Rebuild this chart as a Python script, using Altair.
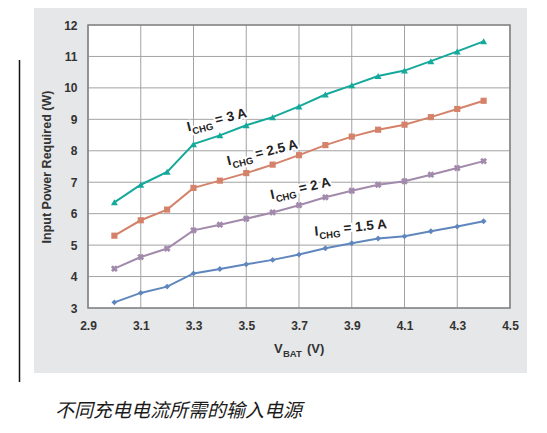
import altair as alt
import pandas as pd

# ---- data ----
volts = [3.0, 3.1, 3.2, 3.3, 3.4, 3.5, 3.6, 3.7, 3.8, 3.9, 4.0, 4.1, 4.2, 4.3, 4.4]
p_30 = [6.36, 6.92, 7.33, 8.21, 8.49, 8.81, 9.07, 9.41, 9.79, 10.08, 10.38, 10.55, 10.85, 11.16, 11.48]
p_25 = [5.30, 5.79, 6.13, 6.82, 7.05, 7.29, 7.56, 7.86, 8.18, 8.45, 8.67, 8.83, 9.07, 9.33, 9.59]
p_20 = [4.25, 4.62, 4.89, 5.47, 5.65, 5.84, 6.04, 6.27, 6.52, 6.73, 6.92, 7.03, 7.24, 7.45, 7.67]
p_15 = [3.18, 3.48, 3.68, 4.10, 4.24, 4.39, 4.53, 4.70, 4.90, 5.06, 5.21, 5.28, 5.44, 5.59, 5.76]

series_names = ["3 A", "2.5 A", "2 A", "1.5 A"]
series_vals = [p_30, p_25, p_20, p_15]
series_colors = ["#14a99b", "#d5826a", "#a28aac", "#5f87bd"]
series_shapes = ["triangle-up", "square", "cross", "diamond"]
series_angles = [0, 0, 45, 0]
series_sizes = [48, 38, 48, 34]

x_ticks = [2.9, 3.1, 3.3, 3.5, 3.7, 3.9, 4.1, 4.3, 4.5]
y_ticks = [3, 4, 5, 6, 7, 8, 9, 10, 11, 12]

label_x = [3.280, 3.432, 3.596, 3.761]
label_y = [8.61, 7.53, 6.46, 5.30]
label_angle = [346, 346, 347.5, 354]
label_main = ["I", "I", "I", "I"]
label_sub = ["CHG", "CHG", "CHG", "CHG"]
label_rest = ["= 3 A", "= 2.5 A", "= 2 A", "= 1.5 A"]

y_title = "Input Power Required (W)"
x_title_main = "V"
x_title_sub = "BAT"
x_title_rest = "(V)"
caption = "不同充电电流所需的输入电源"

W, H = 422, 283
FONT = "Liberation Sans"
TXT = "#333333"

rows = []
for name, vals in zip(series_names, series_vals):
    for v, p in zip(volts, vals):
        rows.append({"s": name, "v": v, "p": p})
df = pd.DataFrame(rows)
grid_x = pd.DataFrame({"v": x_ticks})
grid_y = pd.DataFrame({"p": y_ticks})
lab = pd.DataFrame({"v": label_x, "p": label_y, "a": label_angle,
                    "m": label_main, "sb": label_sub, "r": label_rest})
one = pd.DataFrame({"k": [0]})

xs = alt.Scale(domain=[2.9, 4.5], nice=False, zero=False)
ys = alt.Scale(domain=[3, 12], nice=False, zero=False)

xaxis = alt.Axis(values=x_ticks, format=".1f", grid=False, domain=False, ticks=False,
                 tickSize=0, labelPadding=12, labelFont=FONT, labelFontWeight="bold",
                 labelFontSize=12, labelColor=TXT, title=None, zindex=1,
                 labelFlush=False, labelOverlap=False)
yaxis = alt.Axis(values=y_ticks, format="d", grid=False, domain=False, ticks=False,
                 tickSize=0, labelPadding=11, labelFont=FONT, labelFontWeight="bold",
                 labelFontSize=12, labelColor=TXT, title=y_title, titleFont=FONT,
                 titleFontWeight="bold", titleFontSize=12.5, titleColor=TXT,
                 titlePadding=10, zindex=1, labelFlush=False, labelOverlap=False)


def X():
    return alt.X("v:Q", scale=xs, axis=xaxis)


def Y():
    return alt.Y("p:Q", scale=ys, axis=yaxis)


layers = []
# gray panel
layers.append(alt.Chart(one).mark_rect(color="#e6e7e8").encode(
    x=alt.value(-54), x2=alt.value(439), y=alt.value(-18), y2=alt.value(348)))
# white plot area
layers.append(alt.Chart(one).mark_rect(color="white").encode(
    x=alt.value(0), x2=alt.value(W), y=alt.value(0), y2=alt.value(H)))
# grid
layers.append(alt.Chart(grid_x).mark_rule(color="#a3a3a3", strokeWidth=1).encode(
    x=X(), y=alt.value(0), y2=alt.value(H)))
layers.append(alt.Chart(grid_y).mark_rule(color="#a3a3a3", strokeWidth=1).encode(
    y=Y(), x=alt.value(0), x2=alt.value(W)))
# frame
layers.append(alt.Chart(one).mark_rect(filled=False, stroke="#868686", strokeWidth=1.6).encode(
    x=alt.value(0), x2=alt.value(W), y=alt.value(0), y2=alt.value(H)))
# lines
layers.append(alt.Chart(df).mark_line(strokeWidth=2).encode(
    x=X(), y=Y(),
    color=alt.Color("s:N", scale=alt.Scale(domain=series_names, range=series_colors), legend=None),
))
# markers
for name, col, shp, ang, sz in zip(series_names, series_colors, series_shapes, series_angles, series_sizes):
    layers.append(alt.Chart(df).transform_filter(alt.datum.s == name).mark_point(
        shape=shp, filled=True, color=col, size=sz, angle=ang, opacity=1).encode(
        x=X(), y=Y()))


# curve labels (halo then text)
def lab_layer(field, size, dx, dy, halo):
    kw = dict(align="left", baseline="alphabetic", font=FONT, fontWeight="bold",
              fontSize=size, dx=dx, dy=dy)
    if halo:
        kw.update(fill="white", stroke="white", strokeWidth=4)
    else:
        kw.update(color="#222222")
    return alt.Chart(lab).mark_text(**kw).encode(
        x=X(), y=Y(), angle=alt.Angle("a:Q", scale=None), text=f"{field}:N")


for halo in (True, False):
    layers.append(lab_layer("m", 13.5, 0, 0, halo))
    layers.append(lab_layer("sb", 9.5, 4.3, 4, halo))
    layers.append(lab_layer("r", 13.5, 29, 0, halo))

# x-axis title with subscript
layers.append(alt.Chart(one).mark_text(align="left", baseline="alphabetic", font=FONT,
    fontWeight="bold", fontSize=13, color=TXT, text=x_title_main).encode(
    x=alt.value(186), y=alt.value(328)))
layers.append(alt.Chart(one).mark_text(align="left", baseline="alphabetic", font=FONT,
    fontWeight="bold", fontSize=9.5, color=TXT, text=x_title_sub).encode(
    x=alt.value(195), y=alt.value(332)))
layers.append(alt.Chart(one).mark_text(align="left", baseline="alphabetic", font=FONT,
    fontWeight="bold", fontSize=13, color=TXT, text=x_title_rest).encode(
    x=alt.value(219), y=alt.value(328)))

# black side line and caption
layers.append(alt.Chart(one).mark_rule(color="#111111", strokeWidth=1.5).encode(
    x=alt.value(-68.5), y=alt.value(35), y2=alt.value(357)))
layers.append(alt.Chart(one).mark_text(align="left", baseline="alphabetic",
    font="Noto Sans CJK SC", fontStyle="italic", fontSize=19, color="#1a1a1a",
    text=caption).encode(x=alt.value(-33), y=alt.value(392)))

chart = alt.layer(*layers).properties(
    width=W, height=H, autosize="none",
    padding={"left": 80, "top": 17, "right": 25, "bottom": 115},
    background="white",
).configure_view(stroke=None)

chart.save("out.html", embed_options={"renderer": "svg", "actions": False})
